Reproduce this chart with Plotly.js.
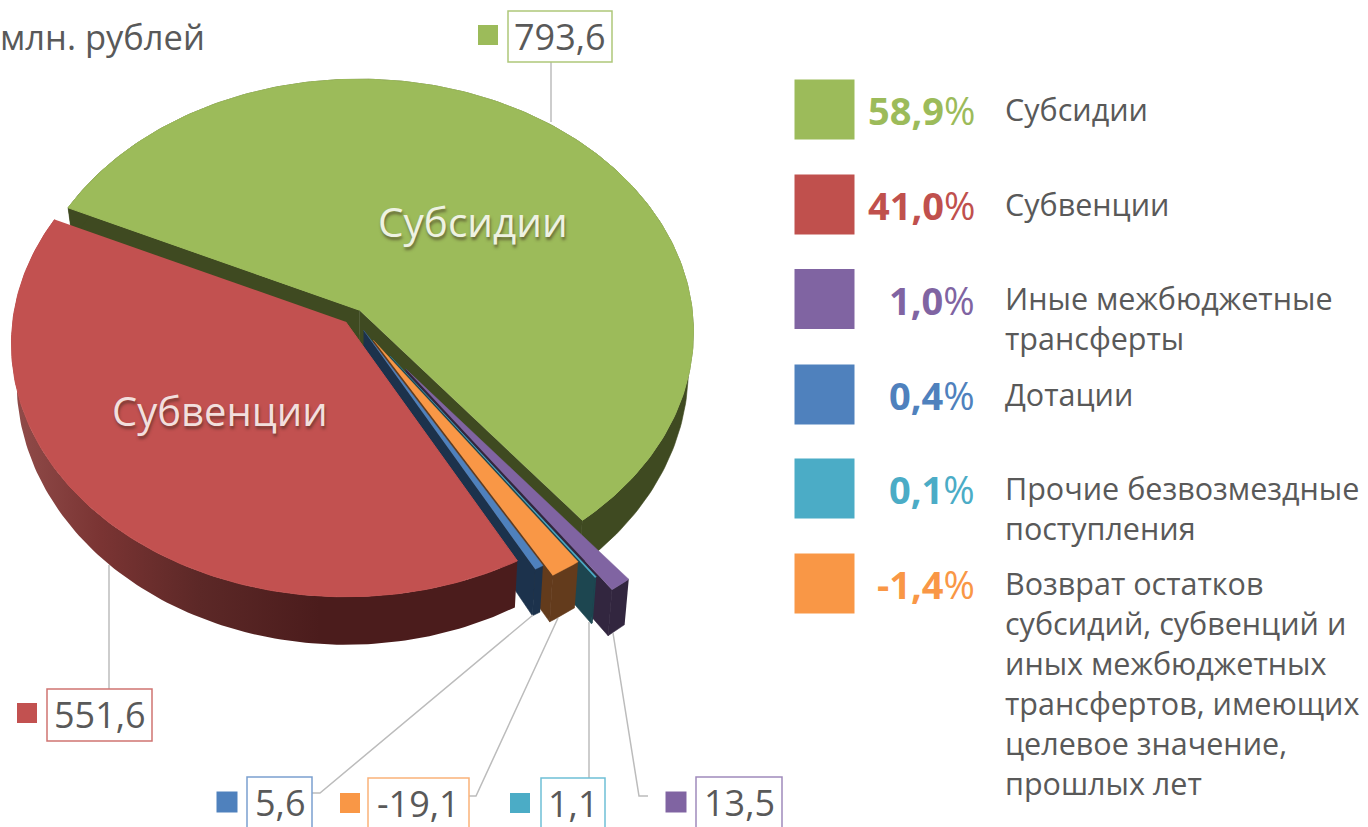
<!DOCTYPE html>
<html><head><meta charset="utf-8">
<script src="https://cdn.plot.ly/plotly-3.0.1.min.js"></script>
<style>html,body{margin:0;padding:0;background:#fff;overflow:hidden}</style>
</head><body><div id="chart" style="width:1368px;height:827px"></div>
<script>
// ---- data ----
const categories = ['Субсидии','Иные межбюджетные трансферты','Прочие безвозмездные поступления','Возврат остатков','Дотации','Субвенции'];
const values     = [793.6, 13.5, 1.1, -19.1, 5.6, 551.6];
const valueText  = ['793,6','13,5','1,1','-19,1','5,6','551,6'];
const pull       = [0.032, 0.245, 0.18, 0.105, 0.06, 0.03];
const topColors  = ['#9cbb5a','#8064a2','#4bacc6','#f99746','#4f81bd','#c25150'];
const wallColors = ['#3f4a21','#32263f','#1d4650','#633b1c','#1c324c','#4b1c1c'];
const boxColors  = ['#aec87a','#a08bbc','#6fc0d6','#fab27a','#7ba0cf','#cf7472'];

const legendPct   = ['58,9','41,0','1,0','0,4','0,1','-1,4'];
const legendColor = ['#9cbb5a','#c0504d','#8064a2','#4f81bd','#4bacc6','#f99746'];
const legendLines = [['Субсидии'],['Субвенции'],['Иные межбюджетные','трансферты'],['Дотации'],
  ['Прочие безвозмездные','поступления'],
  ['Возврат остатков','субсидий, субвенций и','иных межбюджетных','трансфертов, имеющих','целевое значение,','прошлых лет']];

// ---- layout placement (pixel space of the page) ----
const legendSwatchY = [109.5,204.5,299,394.5,488.5,583.5];
const boxes = [ // slice index, x0,x1,y0,y1, swatch x, swatch y, swatch size
  [0,508,612,11,62,488,35,20],[5,47,152,689,741,27,713,20],[4,247,312,777,850,227,802,21],
  [3,368,469,778,850,350,803,20],[2,541,605,778,850,520,803,20],[1,696,782,777,850,676,802,21]];
const leaders = [[[551,122],[551,62]],[[109,565],[109,689]],[[312,793],[320,793],[533,615]],
  [[469,796],[476,796],[558,618]],[[589,778],[589,622]],[[648,796],[639,796],[613,633]]];

// ---- projection of the tilted pie ----
const CX=353, CY=316, RX=333, RY=251, K=0.087, START=295;
const rad=d=>d*Math.PI/180;
function projTop(deg,r,ox,oy){const s=Math.sin(rad(deg)),c=Math.cos(rad(deg)),d=1+K*c*r;
  return [ox+r*RX*s/d, oy-r*RY*c/d, c*r];}
function projBottom(deg,r,ox,oy){const p=projTop(deg,r,ox,oy);
  return [CX+(p[0]-CX)*0.985, p[1]+36-12*p[2]];}

const total=values.reduce((a,v)=>a+Math.abs(v),0);
let ang=START; const traces=[];
function poly(pts,color,grad,lw){const t={type:'scatter',mode:'lines',x:pts.map(p=>p[0]),y:pts.map(p=>p[1]),
  fill:'toself',fillcolor:color,line:{color:color,width:lw===undefined?0.6:lw},hoverinfo:'skip',showlegend:false};
  if(grad){t.fillgradient=grad;t.line.width=0;} traces.push(t);}

values.forEach((v,i)=>{
  const a0=ang,a1=ang+Math.abs(v)/total*360; ang=a1;
  const mid=(a0+a1)/2, m=projTop(mid,1,0,0), ox=CX+pull[i]*m[0], oy=CY+pull[i]*m[1];
  const arcA=[],arcB=[]; const n=Math.max(2,Math.ceil(a1-a0));
  for(let j=0;j<=n;j++){const d=a0+(a1-a0)*j/n; arcA.push(projTop(d,1,ox,oy).slice(0,2)); arcB.push(projBottom(d,1,ox,oy));}
  const apexT=[ox,oy], apexB=projBottom(mid,0,ox,oy);
  // cut faces: the clockwise end faces the viewer on every slice but the last, the first slice shows both
  if(i===0) poly([apexT,arcA[0],arcB[0],apexB],wallColors[i]);
  if(i!==5) poly([apexT,arcA[n],arcB[n],apexB],wallColors[i]);
  // outer wall
  const wall=arcA.concat(arcB.slice().reverse());
  if(i===5) poly(wall,wallColors[i],{type:'horizontal',start:20,stop:320,
     colorscale:[[0,'#8f4a48'],[0.27,'#7a3433'],[0.6,'#5c2827'],[1,'#4b1c1c']]});
  else poly(wall,wallColors[i]);
  // top face
  poly([apexT].concat(arcA),topColors[i],null,i===0||i===5?1:0.4);
});

// legend and label swatches
traces.push({type:'scatter',mode:'markers',x:legendSwatchY.map(()=>824.5),y:legendSwatchY,
  marker:{symbol:'square',size:60,opacity:1,color:legendColor,line:{width:0}},hoverinfo:'skip',showlegend:false});
traces.push({type:'scatter',mode:'markers',x:boxes.map(b=>b[5]),y:boxes.map(b=>b[6]),
  marker:{symbol:'square',size:boxes.map(b=>b[7]),opacity:1,color:boxes.map(b=>topColors[b[0]]),line:{width:0}},hoverinfo:'skip',showlegend:false});
leaders.forEach(l=>traces.push({type:'scatter',mode:'lines',x:l.map(p=>p[0]),y:l.map(p=>p[1]),
  line:{color:'#bcbcbc',width:1.5},hoverinfo:'skip',showlegend:false}));

const FONT='"Open Sans"', GREY='#595959';
const ann=[], shapes=[];
const T=(x,y,text,size,color,anchor,extra)=>ann.push(Object.assign({xref:'x',yref:'y',x,y,text,showarrow:false,
  xanchor:anchor,yanchor:'middle',font:{family:FONT,size,color}},extra||{}));

T(207,36,'млн. рублей',34.5,GREY,'right');
boxes.forEach(b=>{
  shapes.push({type:'rect',xref:'x',yref:'y',x0:b[1],x1:b[2],y0:b[3],y1:b[4],fillcolor:'#fff',layer:'above',
    line:{color:boxColors[b[0]],width:1.5}});
  T((b[1]+b[2])/2,b[3]+25,valueText[b[0]],36,GREY,'center');
});
const shadow='1px 3px 3px rgba(60,40,30,0.55)';
ann.push({xref:'x',yref:'y',x:473,y:221,text:categories[0],showarrow:false,font:{family:FONT,size:40.5,color:'#eef2e2',shadow}});
ann.push({xref:'x',yref:'y',x:220,y:410,text:categories[5],showarrow:false,font:{family:FONT,size:40,color:'#f2dfdd',shadow}});

legendPct.forEach((p,i)=>{
  T(977,legendSwatchY[i]+0.5,'<b>'+p+'</b>%',38,legendColor[i],'right');
  legendLines[i].forEach((line,j)=>T(1003,legendSwatchY[i]-1+j*40,line,30.5,GREY,'left'));
});

Plotly.newPlot('chart',traces,{
  width:1368,height:827,margin:{l:0,r:0,t:0,b:0},paper_bgcolor:'#fff',plot_bgcolor:'#fff',
  xaxis:{range:[0,1368],visible:false,fixedrange:true},
  yaxis:{range:[827,0],visible:false,fixedrange:true},
  shapes,annotations:ann,showlegend:false
},{displayModeBar:false,staticPlot:true});
</script></body></html>
